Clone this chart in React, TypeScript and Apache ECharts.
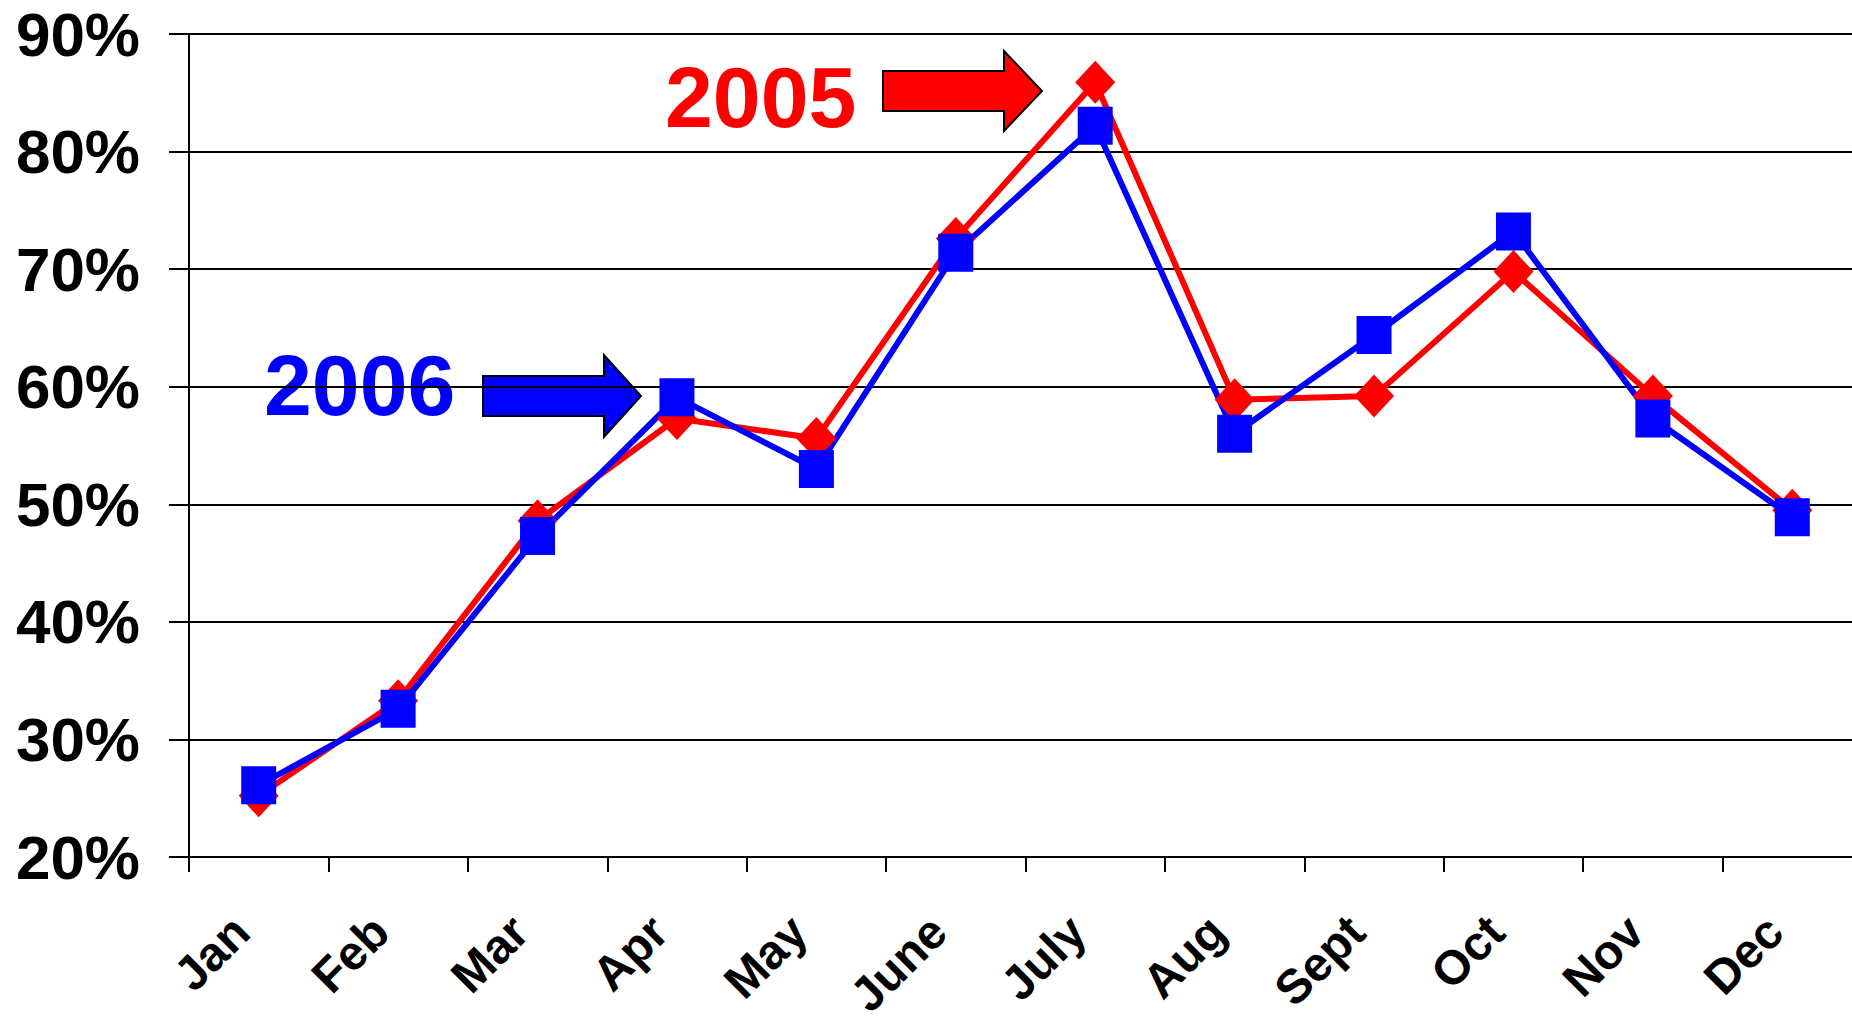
import React, { useEffect, useRef } from 'react';
import * as echarts from 'echarts';

const categories = ['Jan', 'Feb', 'Mar', 'Apr', 'May', 'June', 'July', 'Aug', 'Sept', 'Oct', 'Nov', 'Dec'];
const values2005 = [25.2, 33.3, 48.6, 57.3, 55.6, 72.6, 85.9, 58.9, 59.2, 69.8, 59.2, 49.5];
const values2006 = [26.1, 32.6, 47.3, 59.1, 53.0, 71.4, 82.2, 56.0, 64.4, 73.2, 57.3, 48.9];
const yTicks = { min: 20, max: 90, interval: 10 };

const FONT = 'Liberation Sans, Arial, sans-serif';

export default function App() {
  const ref = useRef<HTMLDivElement>(null);
  useEffect(() => {
    document.body.style.margin = '0';
    const chart = echarts.init(ref.current!, null, { renderer: 'svg' });
    const blackLine = { color: '#000', width: 2 };
    chart.setOption({
      animation: false,
      backgroundColor: '#fff',
      grid: { left: 189, top: 34, width: 1673, height: 823, outerBoundsMode: 'none', containLabel: false },
      xAxis: {
        type: 'category',
        data: categories,
        boundaryGap: true,
        axisLine: { lineStyle: blackLine },
        axisTick: { show: true, length: 15, lineStyle: blackLine },
        axisLabel: {
          interval: 0,
          rotate: 45,
          margin: 49,
          padding: [0, 25, 0, 0],
          fontFamily: FONT,
          fontWeight: 'bold',
          fontSize: 48,
          lineHeight: 40,
          color: '#000',
        },
      },
      yAxis: {
        type: 'value',
        min: yTicks.min,
        max: yTicks.max,
        interval: yTicks.interval,
        axisLine: { show: true, lineStyle: blackLine },
        axisTick: { show: true, length: 20, lineStyle: blackLine },
        splitLine: { show: true, lineStyle: blackLine },
        axisLabel: {
          formatter: '{value}%',
          margin: 49,
          fontFamily: FONT,
          fontWeight: 'bold',
          fontSize: 62,
          lineHeight: 48,
          color: '#000',
        },
      },
      series: [
        {
          name: '2005',
          type: 'line',
          data: values2005,
          symbol: 'diamond',
          symbolSize: [40, 43],
          lineStyle: { color: '#ff0000', width: 6 },
          itemStyle: { color: '#ff0000' },
        },
        {
          name: '2006',
          type: 'line',
          data: values2006,
          symbol: 'rect',
          symbolSize: [35, 38],
          lineStyle: { color: '#0000ff', width: 6 },
          itemStyle: { color: '#0000ff' },
        },
      ],
      graphic: [
        {
          type: 'text',
          x: 665,
          y: 97,
          style: {
            text: '2005',
            font: `bold 86px ${FONT}`,
            fill: '#ff0000',
            textAlign: 'left',
            textVerticalAlign: 'middle',
          },
        },
        {
          type: 'polygon',
          shape: {
            points: [[883, 71], [1004, 71], [1004, 51], [1042, 91], [1004, 131], [1004, 111], [883, 111]],
          },
          style: { fill: '#ff0000', stroke: '#000', lineWidth: 2 },
        },
        {
          type: 'text',
          x: 264,
          y: 385,
          style: {
            text: '2006',
            font: `bold 86px ${FONT}`,
            fill: '#0000ff',
            textAlign: 'left',
            textVerticalAlign: 'middle',
          },
        },
        {
          type: 'polygon',
          shape: {
            points: [[483, 376], [604, 376], [604, 355], [641, 396], [604, 437], [604, 416], [483, 416]],
          },
          style: { fill: '#0000ff', stroke: '#000', lineWidth: 2 },
        },
      ],
    });
    return () => chart.dispose();
  }, []);
  return <div ref={ref} style={{ width: 1852, height: 1020 }} />;
}
